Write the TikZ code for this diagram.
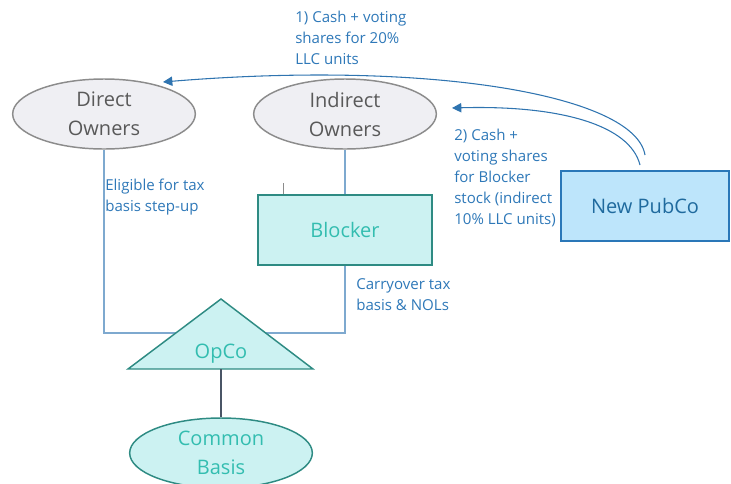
\documentclass[tikz,border=0pt]{standalone}
\usepackage{fontspec}
\setmainfont{Open Sans}
\usepackage{tikz}
\usetikzlibrary{positioning,arrows.meta,shapes.geometric,calc}

\definecolor{ownerfill}{HTML}{EFEFF3}
\definecolor{ownerline}{HTML}{8C8C8C}
\definecolor{ownertext}{HTML}{595959}
\definecolor{tealfill}{HTML}{CCF2F2}
\definecolor{tealline}{HTML}{2E8B83}
\definecolor{tealtext}{HTML}{33BDB0}
\definecolor{pubfill}{HTML}{BDE5FB}
\definecolor{publine}{HTML}{2A77B8}
\definecolor{pubtext}{HTML}{1F6A9E}
\definecolor{notetext}{HTML}{2E78B8}
\definecolor{linkline}{HTML}{7EA9CF}
\definecolor{flowline}{HTML}{2F74B0}
\definecolor{stemline}{HTML}{4A5566}

\tikzset{
  big/.style={font={\fontsize{15}{21.75}\selectfont}, align=center},
  owner/.style={big, ellipse, draw=ownerline, fill=ownerfill, text=ownertext,
    line width=1.1pt, minimum width=137pt, minimum height=52.5pt, inner sep=0pt},
  tealbox/.style={big, rectangle, draw=tealline, fill=tealfill, text=tealtext,
    line width=1.1pt, minimum width=130.5pt, minimum height=52.5pt},
  pubbox/.style={big, rectangle, draw=publine, fill=pubfill, text=pubtext,
    line width=1.1pt, minimum width=126pt, minimum height=52.5pt},
  basis/.style={owner, draw=tealline, fill=tealfill, text=tealtext},
  note/.style={font={\fontsize{11.3}{15.75}\selectfont}, text=notetext,
    align=left, anchor=north west, inner sep=0pt},
  link/.style={draw=linkline, line width=0.9pt},
  flow/.style={draw=flowline, line width=0.8pt, -{Triangle[length=7pt,width=7pt]}}
}

\begin{document}
\begin{tikzpicture}[x=0.75pt, y=-0.75pt]
  \useasboundingbox (0,0) rectangle (731,483);

  % owners and companies
  \node[owner] (direct) at (104,114) {Direct\\Owners};
  \node[owner] (indirect) at (345,114) {Indirect\\Owners};
  \node[tealbox] (blocker) at (345,230) {Blocker};
  \node[pubbox] (pubco) at (645,206) {New PubCo};
  \node[basis] (common) at (221,453) {Common\\Basis};

  % ownership lines
  \coordinate (join) at (221,333);
  \draw[link] (direct.south) |- (join) -| (blocker.south);
  \draw[link] (indirect.south) -- (blocker.north);
  \coordinate (tick) at (283,183);
  \draw[draw=ownerline, line width=0.5pt] (tick) -- (tick |- blocker.north);

  % opco triangle
  \coordinate (apex) at (221,299);
  \coordinate (baseL) at (128,369);
  \coordinate (baseR) at (313,369);
  \filldraw[fill=tealfill, draw=tealline, line width=1.1pt] (apex) -- (baseR) -- (baseL) -- cycle;
  \node[big, text=tealtext] (opco) at (221,354) {OpCo};
  \coordinate (opcobase) at (221,369);
  \draw[draw=stemline, line width=0.8pt] (opcobase) -- (common.north);

  % exchanges
  \coordinate (tip1) at (163,82);
  \coordinate (tip2) at (452,108);
  \coordinate (from1) at (645,155);
  \coordinate (from2) at (640,165);
  \draw[flow] (from1) .. controls (635,95) and (430,60) .. (tip1);
  \draw[flow] (from2) .. controls (630,125) and (560,105) .. (tip2);

  % notes
  \node[note] (n1) at (295,11) {1) Cash + voting\\shares for 20\%\\LLC units};
  \node[note] (n2) at (454,129) {2) Cash +\\voting shares\\for Blocker\\stock (indirect\\10\% LLC units)};
  \node[note] (n3) at (105,179) {Eligible for tax\\basis step-up};
  \node[note] (n4) at (356,278) {Carryover tax\\basis \& NOLs};
\end{tikzpicture}
\end{document}
